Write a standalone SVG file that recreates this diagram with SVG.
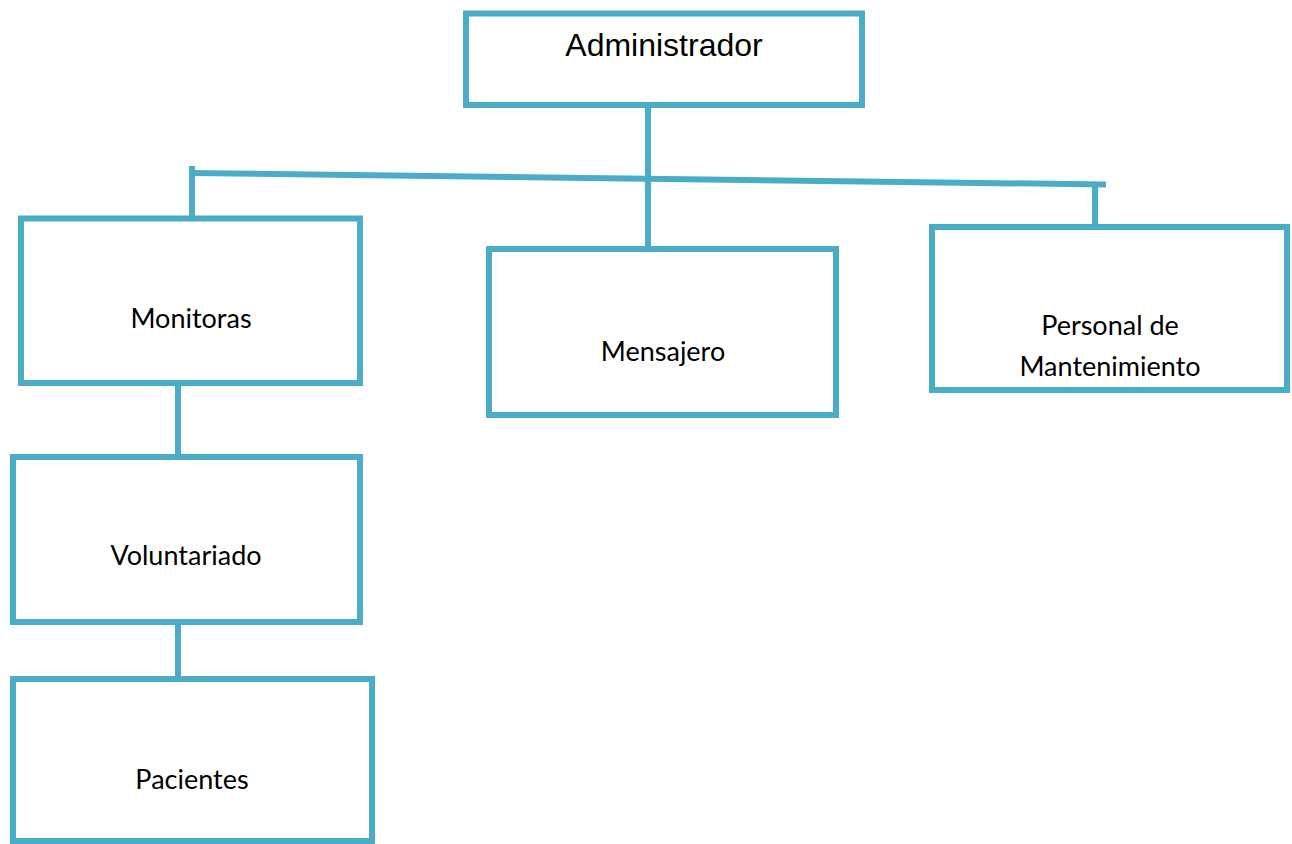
<svg xmlns="http://www.w3.org/2000/svg" width="1292" height="844" viewBox="0 0 1292 844">
<style>
.box{fill:#fff;stroke:#4BACC6;stroke-width:6}
.ln{fill:none;stroke:#4BACC6;stroke-width:6}
.t{font-family:Lato,"Liberation Sans",sans-serif;font-size:27px;fill:#000;text-anchor:middle}
.ta{font-family:"Liberation Sans",Arial,sans-serif;font-size:32px;fill:#000;text-anchor:middle}
</style>
<rect width="1292" height="844" fill="#fff"/>
<g id="connectors">
<line class="ln" x1="648" y1="103" x2="648" y2="249"/>
<line class="ln" x1="189" y1="173" x2="1106" y2="184.5"/>
<line class="ln" x1="192" y1="166" x2="192" y2="218"/>
<line class="ln" x1="1095" y1="184" x2="1095" y2="227"/>
<line class="ln" x1="178" y1="383" x2="178" y2="457"/>
<line class="ln" x1="178" y1="622" x2="178" y2="679"/>
</g>
<g id="administrador"><rect class="box" x="466" y="13.5" width="396" height="91.5"/><text class="ta" x="664" y="56">Administrador</text></g>
<g id="monitoras"><rect class="box" x="21" y="218.5" width="339" height="164.5"/><text class="t" x="191" y="328">Monitoras</text></g>
<g id="mensajero"><rect class="box" x="489" y="249" width="347" height="166"/><text class="t" x="663" y="361">Mensajero</text></g>
<g id="personal"><rect class="box" x="932" y="227" width="355" height="163"/><text class="t" x="1110" y="335">Personal de</text><text class="t" x="1110" y="376">Mantenimiento</text></g>
<g id="voluntariado"><rect class="box" x="13" y="457" width="347" height="165"/><text class="t" x="186" y="565">Voluntariado</text></g>
<g id="pacientes"><rect class="box" x="13" y="679" width="359" height="162"/><text class="t" x="192" y="789">Pacientes</text></g>
</svg>
